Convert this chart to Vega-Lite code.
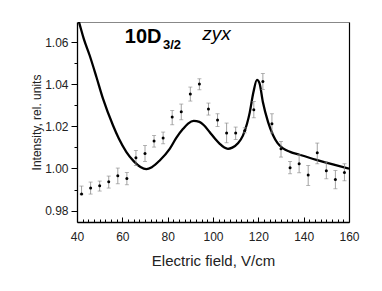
{
  "$schema": "https://vega.github.io/schema/vega-lite/v6.json",
  "width": 272,
  "height": 200,
  "autosize": "none",
  "padding": {"left": 77, "top": 22, "right": 33, "bottom": 69},
  "background": "white",
  "config": {
    "view": {"stroke": null},
    "font": "Liberation Sans",
    "axis": {"grid": false, "labelFont": "Liberation Sans", "titleFont": "Liberation Sans", "labelColor": "#222", "titleColor": "#222", "domainColor": "#000", "tickColor": "#000", "titleFontWeight": "normal"}
  },
  "datasets": {
    "curve": [
      {"E": 40, "I": 1.0725}, {"E": 41, "I": 1.069}, {"E": 43, "I": 1.0615}, {"E": 45.6, "I": 1.0536},
      {"E": 48.6, "I": 1.0433}, {"E": 51.5, "I": 1.033}, {"E": 55.9, "I": 1.0204}, {"E": 58.5, "I": 1.0141},
      {"E": 61.8, "I": 1.0078}, {"E": 65, "I": 1.0035}, {"E": 68, "I": 1.0007}, {"E": 70.6, "I": 0.9997},
      {"E": 73, "I": 1.0006}, {"E": 76.5, "I": 1.0038}, {"E": 80.9, "I": 1.0093}, {"E": 83.8, "I": 1.0145},
      {"E": 86.8, "I": 1.0188}, {"E": 89, "I": 1.0213}, {"E": 91.5, "I": 1.0226}, {"E": 94, "I": 1.0221},
      {"E": 96, "I": 1.0205}, {"E": 98.5, "I": 1.0173}, {"E": 101, "I": 1.0140}, {"E": 103, "I": 1.0117},
      {"E": 105, "I": 1.0099}, {"E": 106.6, "I": 1.0093}, {"E": 108.5, "I": 1.0099}, {"E": 111, "I": 1.0120},
      {"E": 113.2, "I": 1.0156}, {"E": 115, "I": 1.0212}, {"E": 116.2, "I": 1.0265}, {"E": 117.8, "I": 1.0360},
      {"E": 119.4, "I": 1.0420}, {"E": 120.5, "I": 1.0405}, {"E": 122, "I": 1.0315}, {"E": 124.3, "I": 1.0220},
      {"E": 126.5, "I": 1.0158}, {"E": 128.5, "I": 1.0120}, {"E": 130.9, "I": 1.0095}, {"E": 134, "I": 1.0079},
      {"E": 138.2, "I": 1.0065}, {"E": 145.6, "I": 1.0041}, {"E": 152.9, "I": 1.0019}, {"E": 160, "I": 0.9999}
    ],
    "points": [
      {"E": 42, "I": 0.98785, "lo": 0.98785, "hi": 0.99165},
      {"E": 46, "I": 0.9907, "lo": 0.98785, "hi": 0.99355},
      {"E": 50, "I": 0.99179, "lo": 0.98928, "hi": 0.99402},
      {"E": 54, "I": 0.99369, "lo": 0.9907, "hi": 0.99639},
      {"E": 58, "I": 0.99654, "lo": 0.99274, "hi": 1.00019},
      {"E": 62, "I": 0.99526, "lo": 0.99227, "hi": 0.9981},
      {"E": 66, "I": 1.00508, "lo": 1.00142, "hi": 1.00854},
      {"E": 70, "I": 1.00712, "lo": 1.00333, "hi": 1.01091},
      {"E": 74, "I": 1.013, "lo": 1.01015, "hi": 1.01566},
      {"E": 78, "I": 1.01442, "lo": 1.01172, "hi": 1.01727},
      {"E": 82, "I": 1.02439, "lo": 1.02074, "hi": 1.02752},
      {"E": 86, "I": 1.0269, "lo": 1.02311, "hi": 1.03056},
      {"E": 90, "I": 1.0353, "lo": 1.03198, "hi": 1.03862},
      {"E": 94, "I": 1.04005, "lo": 1.03734, "hi": 1.04256},
      {"E": 98, "I": 1.02819, "lo": 1.02534, "hi": 1.03103},
      {"E": 102, "I": 1.02297, "lo": 1.01993, "hi": 1.02596},
      {"E": 106, "I": 1.0168, "lo": 1.0122, "hi": 1.02154},
      {"E": 110, "I": 1.0168, "lo": 1.01376, "hi": 1.01964},
      {"E": 114, "I": 1.01803, "lo": 1.0169, "hi": 1.0193},
      {"E": 118, "I": 1.02785, "lo": 1.02406, "hi": 1.03179},
      {"E": 122, "I": 1.04128, "lo": 1.03749, "hi": 1.04508},
      {"E": 126, "I": 1.02121, "lo": 1.0168, "hi": 1.02596},
      {"E": 130, "I": 1.00935, "lo": 1.00541, "hi": 1.01281},
      {"E": 134, "I": 1.00033, "lo": 0.99749, "hi": 1.00332},
      {"E": 138, "I": 1.00223, "lo": 0.99796, "hi": 1.0065},
      {"E": 142, "I": 0.99687, "lo": 0.99193, "hi": 1.00142},
      {"E": 146, "I": 1.00745, "lo": 1.00223, "hi": 1.01205},
      {"E": 150, "I": 0.99891, "lo": 0.99511, "hi": 1.00304},
      {"E": 154, "I": 0.99478, "lo": 0.99037, "hi": 0.99905},
      {"E": 158, "I": 0.9981, "lo": 0.99416, "hi": 1.00223}
    ]
  },
  "resolve": {"axis": {"x": "independent", "y": "independent"}},
  "layer": [
    {
      "data": {"name": "curve"},
      "mark": {"type": "line", "color": "#000", "strokeWidth": 2.3, "interpolate": "monotone", "clip": true},
      "encoding": {
        "x": {"field": "E", "type": "quantitative", "scale": {"domain": [40, 160], "nice": false, "zero": false},
          "axis": {"orient": "bottom", "title": "Electric field, V/cm", "titleFontSize": 15, "titlePadding": 9,
            "values": [40,42.5,45,47.5,50,52.5,55,57.5,60,62.5,65,67.5,70,72.5,75,77.5,80,82.5,85,87.5,90,92.5,95,97.5,100,102.5,105,107.5,110,112.5,115,117.5,120,122.5,125,127.5,130,132.5,135,137.5,140,142.5,145,147.5,150,152.5,155,157.5,160],
            "labelExpr": "datum.value % 20 === 0 ? format(datum.value, 'd') : ''",
            "labelFontSize": 12, "labelPadding": 14, "labelFlush": false, "labelOverlap": false,
            "tickSize": {"condition": {"test": "datum.value % 20 === 0", "value": -5}, "value": -3},
            "domainWidth": 1.3, "tickWidth": 1}},
        "y": {"field": "I", "type": "quantitative", "scale": {"domain": [0.9746, 1.0695], "nice": false, "zero": false},
          "axis": {"orient": "left", "title": "Intensity, rel. units", "titleFontSize": 12, "titlePadding": 1,
            "values": [0.98, 0.99, 1.0, 1.01, 1.02, 1.03, 1.04, 1.05, 1.06],
            "labelExpr": "round(datum.value * 100) % 2 === 0 ? format(datum.value, '.2f') : ''",
            "labelFontSize": 12, "labelPadding": 3, "labelFlush": false, "labelOverlap": false,
            "tickSize": {"condition": {"test": "round(datum.value * 100) % 2 === 0", "value": 6}, "value": 3},
            "domainWidth": 1.3, "tickWidth": 1}}
      }
    },
    {
      "data": {"name": "points"},
      "mark": {"type": "rule", "color": "#8a8a8a", "strokeWidth": 0.8},
      "encoding": {
        "x": {"field": "E", "type": "quantitative", "axis": {"orient": "top", "title": null, "labels": false, "ticks": false, "domainColor": "#888", "domainWidth": 1}},
        "y": {"field": "lo", "type": "quantitative", "axis": {"orient": "right", "title": null, "labels": false, "ticks": false, "domainColor": "#000", "domainWidth": 1.2}},
        "y2": {"field": "hi"}
      }
    },
    {
      "data": {"name": "points"},
      "mark": {"type": "tick", "orient": "horizontal", "color": "#8a8a8a", "size": 4, "thickness": 0.9},
      "encoding": {
        "x": {"field": "E", "type": "quantitative", "axis": null},
        "y": {"field": "lo", "type": "quantitative", "axis": null}
      }
    },
    {
      "data": {"name": "points"},
      "mark": {"type": "tick", "orient": "horizontal", "color": "#8a8a8a", "size": 4, "thickness": 0.9},
      "encoding": {
        "x": {"field": "E", "type": "quantitative", "axis": null},
        "y": {"field": "hi", "type": "quantitative", "axis": null}
      }
    },
    {
      "data": {"name": "points"},
      "mark": {"type": "circle", "color": "#000", "size": 9, "opacity": 1},
      "encoding": {
        "x": {"field": "E", "type": "quantitative", "axis": null},
        "y": {"field": "I", "type": "quantitative", "axis": null}
      }
    },
    {
      "data": {"values": [{"label": "10D"}]},
      "mark": {"type": "text", "align": "left", "baseline": "alphabetic", "fontSize": 20, "fontWeight": "bold", "font": "Liberation Sans", "color": "#000"},
      "encoding": {
        "x": {"datum": 61.1, "type": "quantitative", "axis": null},
        "y": {"datum": 1.0595, "type": "quantitative", "axis": null},
        "text": {"field": "label"}
      }
    },
    {
      "data": {"values": [{"label": "3/2"}]},
      "mark": {"type": "text", "align": "left", "baseline": "alphabetic", "fontSize": 13, "fontWeight": "bold", "font": "Liberation Sans", "color": "#000"},
      "encoding": {
        "x": {"datum": 77.9, "type": "quantitative", "axis": null},
        "y": {"datum": 1.0565, "type": "quantitative", "axis": null},
        "text": {"field": "label"}
      }
    },
    {
      "data": {"values": [{"label": "zyx"}]},
      "mark": {"type": "text", "align": "left", "baseline": "alphabetic", "fontSize": 19, "fontStyle": "italic", "font": "Liberation Sans", "color": "#000"},
      "encoding": {
        "x": {"datum": 95.3, "type": "quantitative", "axis": null},
        "y": {"datum": 1.0608, "type": "quantitative", "axis": null},
        "text": {"field": "label"}
      }
    }
  ]
}
